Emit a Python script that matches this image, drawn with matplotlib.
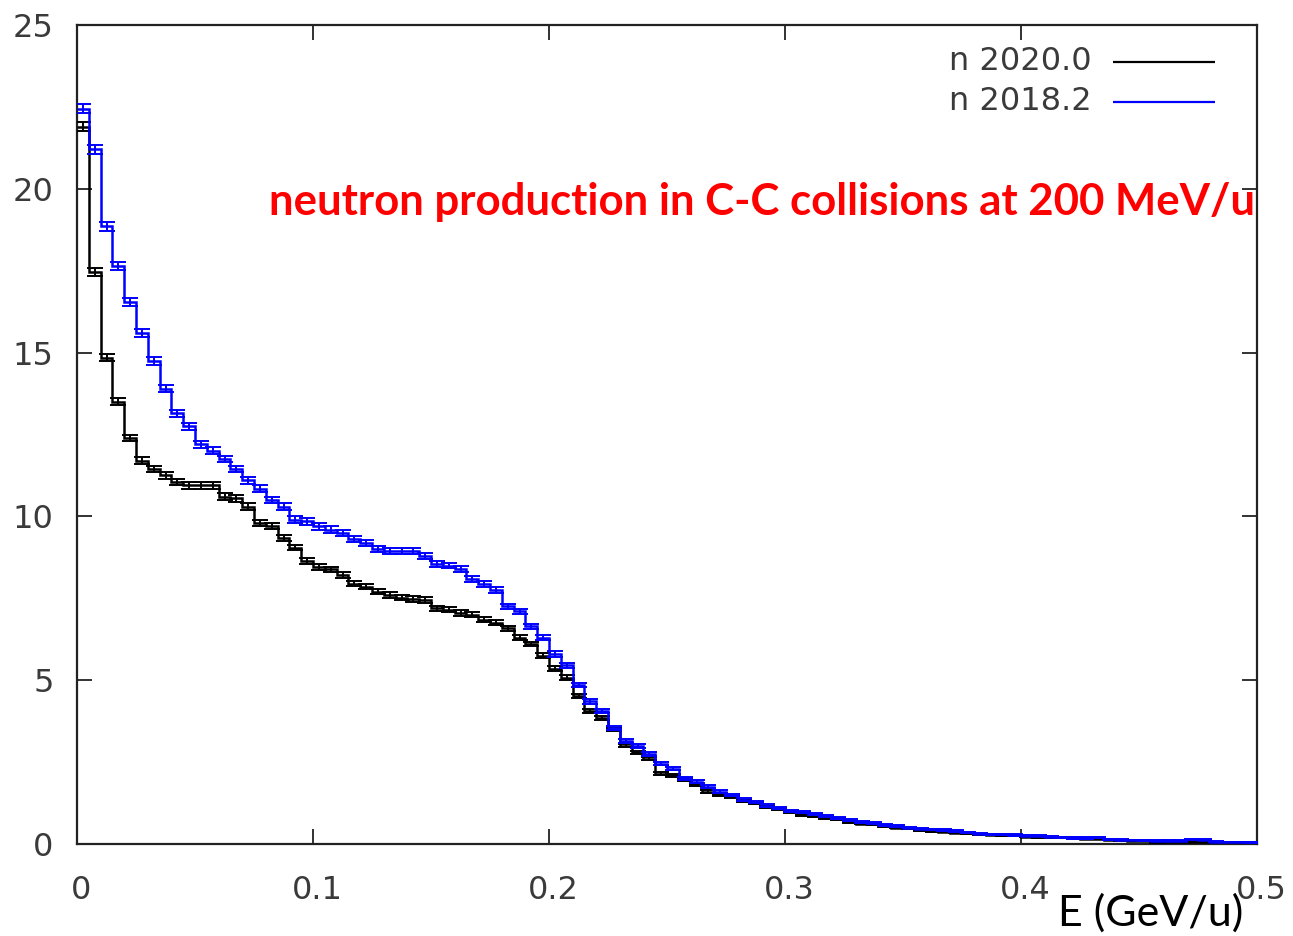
import numpy as np
import matplotlib
matplotlib.use("Agg")
import matplotlib.pyplot as plt
import matplotlib.transforms as mtransforms

# ---- data ----
bin_edges = np.linspace(0.0, 0.5, 101)

n2018_2 = [22.45, 21.2, 18.85, 17.65, 16.55, 15.6, 14.75, 13.9, 13.15, 12.75,
           12.2, 12.0, 11.75, 11.45, 11.1, 10.85, 10.5, 10.3, 9.9, 9.85,
           9.7, 9.6, 9.5, 9.3, 9.2, 9.0, 8.95, 8.95, 8.95, 8.8,
           8.55, 8.5, 8.4, 8.1, 7.95, 7.75, 7.25, 7.1, 6.65, 6.3,
           5.8, 5.45, 4.85, 4.35, 4.05, 3.55, 3.15, 3.0, 2.75, 2.45,
           2.3, 2.0, 1.9, 1.75, 1.6, 1.5, 1.35, 1.28, 1.17, 1.1,
           1.0, 0.97, 0.93, 0.85, 0.8, 0.72, 0.68, 0.65, 0.58, 0.55,
           0.5, 0.47, 0.45, 0.43, 0.4, 0.36, 0.32, 0.3, 0.3, 0.27,
           0.25, 0.25, 0.22, 0.2, 0.18, 0.18, 0.2, 0.14, 0.13, 0.12,
           0.11, 0.1, 0.1, 0.1, 0.14, 0.13, 0.07, 0.06, 0.06, 0.05]

n2018_2_err = [0.15, 0.14, 0.13, 0.13, 0.12, 0.12, 0.12, 0.11, 0.11, 0.11,
               0.11, 0.11, 0.10, 0.10, 0.10, 0.10, 0.10, 0.10, 0.10, 0.10,
               0.10, 0.10, 0.10, 0.09, 0.09, 0.09, 0.09, 0.09, 0.09, 0.09,
               0.09, 0.09, 0.09, 0.09, 0.09, 0.09, 0.08, 0.08, 0.08, 0.08,
               0.08, 0.07, 0.07, 0.07, 0.06, 0.06, 0.06, 0.06, 0.05, 0.05,
               0.05, 0.05, 0.04, 0.04, 0.04, 0.04, 0.04, 0.04, 0.04, 0.03,
               0.03, 0.03, 0.03, 0.03, 0.03, 0.03, 0.03, 0.03, 0.03, 0.03,
               0.02, 0.02, 0.02, 0.02, 0.02, 0.02, 0.02, 0.02, 0.02, 0.02,
               0.02, 0.02, 0.02, 0.02, 0.02, 0.02, 0.02, 0.01, 0.01, 0.01,
               0.01, 0.01, 0.01, 0.01, 0.01, 0.01, 0.01, 0.01, 0.01, 0.01]

n2020_0 = [21.9, 17.45, 14.85, 13.5, 12.4, 11.7, 11.45, 11.25, 11.05, 10.95,
           10.95, 10.95, 10.6, 10.55, 10.3, 9.8, 9.7, 9.35, 9.05, 8.65,
           8.45, 8.38, 8.2, 7.95, 7.85, 7.7, 7.6, 7.52, 7.48, 7.45,
           7.2, 7.15, 7.05, 7.0, 6.85, 6.75, 6.58, 6.3, 6.1, 5.75,
           5.35, 5.08, 4.52, 4.05, 3.85, 3.5, 3.0, 2.8, 2.6, 2.15,
           2.1, 1.95, 1.8, 1.6, 1.5, 1.45, 1.3, 1.25, 1.13, 1.07,
           0.98, 0.88, 0.86, 0.8, 0.75, 0.68, 0.62, 0.6, 0.55, 0.5,
           0.48, 0.42, 0.4, 0.38, 0.35, 0.33, 0.3, 0.28, 0.27, 0.26,
           0.22, 0.2, 0.2, 0.2, 0.18, 0.15, 0.15, 0.12, 0.11, 0.1,
           0.1, 0.05, 0.06, 0.06, 0.07, 0.06, 0.05, 0.05, 0.04, 0.04]

n2020_0_err = [0.14, 0.12, 0.11, 0.11, 0.10, 0.10, 0.10, 0.10, 0.10, 0.10,
               0.10, 0.10, 0.10, 0.10, 0.10, 0.09, 0.09, 0.09, 0.09, 0.09,
               0.09, 0.09, 0.09, 0.08, 0.08, 0.08, 0.08, 0.08, 0.08, 0.08,
               0.08, 0.08, 0.08, 0.08, 0.08, 0.08, 0.08, 0.07, 0.07, 0.07,
               0.07, 0.07, 0.06, 0.06, 0.06, 0.05, 0.05, 0.05, 0.05, 0.04,
               0.04, 0.04, 0.04, 0.04, 0.04, 0.04, 0.03, 0.03, 0.03, 0.03,
               0.03, 0.03, 0.03, 0.03, 0.03, 0.03, 0.02, 0.02, 0.02, 0.02,
               0.02, 0.02, 0.02, 0.02, 0.02, 0.02, 0.02, 0.02, 0.02, 0.02,
               0.02, 0.02, 0.02, 0.02, 0.02, 0.01, 0.01, 0.01, 0.01, 0.01,
               0.01, 0.01, 0.01, 0.01, 0.01, 0.01, 0.01, 0.01, 0.01, 0.01]

series_labels = ["n 2020.0", "n 2018.2"]
series_colors = ["#000000", "#0000ff"]
x_ticks = [0, 0.1, 0.2, 0.3, 0.4, 0.5]
x_tick_labels = ["0", "0.1", "0.2", "0.3", "0.4", "0.5"]
y_ticks = [0, 5, 10, 15, 20, 25]
y_tick_labels = ["0", "5", "10", "15", "20", "25"]
title_text = "neutron production in C-C collisions at 200 MeV/u"
xlabel_text = "E (GeV/u)"

# ---- figure ----
fig = plt.figure(figsize=(12.93, 9.36), dpi=100)
ax = fig.add_axes([77 / 1293, 92 / 936, 1180 / 1293, 819 / 936])

centers = 0.5 * (bin_edges[:-1] + bin_edges[1:])
data = [(n2020_0, n2020_0_err), (n2018_2, n2018_2_err)]
for (vals, errs), col, lab in zip(data, series_colors, series_labels):
    ax.stairs(vals, bin_edges, color=col, linewidth=1.8, baseline=None, zorder=3)
    ax.errorbar(centers, vals, yerr=errs, fmt="none", ecolor=col,
                elinewidth=1.4, capsize=5.5, capthick=1.4, zorder=3)

ax.set_xlim(0, 0.5)
ax.set_ylim(0, 25)
ax.set_xticks(x_ticks)
ax.set_xticklabels(x_tick_labels)
ax.set_yticks(y_ticks)
ax.set_yticklabels(y_tick_labels)
ax.tick_params(direction="in", length=11, width=1.3, top=True, right=True,
               labelsize=23, labelcolor="#3a3a3a", color="#222222")
ax.tick_params(axis="x", pad=22)
ax.tick_params(axis="y", pad=17)
shift = mtransforms.ScaledTranslation(4 / 100, 0, fig.dpi_scale_trans)
for lbl in ax.get_xticklabels():
    lbl.set_fontfamily("DejaVu Sans")
    lbl.set_transform(lbl.get_transform() + shift)
for lbl in ax.get_yticklabels():
    lbl.set_fontfamily("DejaVu Sans")
for sp in ax.spines.values():
    sp.set_linewidth(1.6)
    sp.set_color("#222222")

# legend (gnuplot style: text then line sample)
leg_y = [0.955, 0.906]
for yy, col, lab in zip(leg_y, series_colors, series_labels):
    ax.text(0.860, yy, lab, transform=ax.transAxes, ha="right", va="center",
            fontsize=23, color="#3a3a3a", family="DejaVu Sans")
    ax.plot([0.878, 0.964], [yy, yy], transform=ax.transAxes, color=col,
            linewidth=1.6, solid_capstyle="butt")

ax.text(0.5805, 0.784, title_text, transform=ax.transAxes, ha="center",
        va="center", fontsize=31.5, color="#ff0000", fontweight="bold",
        family="Lato")

fig.text(1151 / 1293, 1 - 913 / 936, xlabel_text, ha="center", va="center",
         fontsize=31, color="#000000", family="Lato")

fig.savefig("out.png", dpi=100)
